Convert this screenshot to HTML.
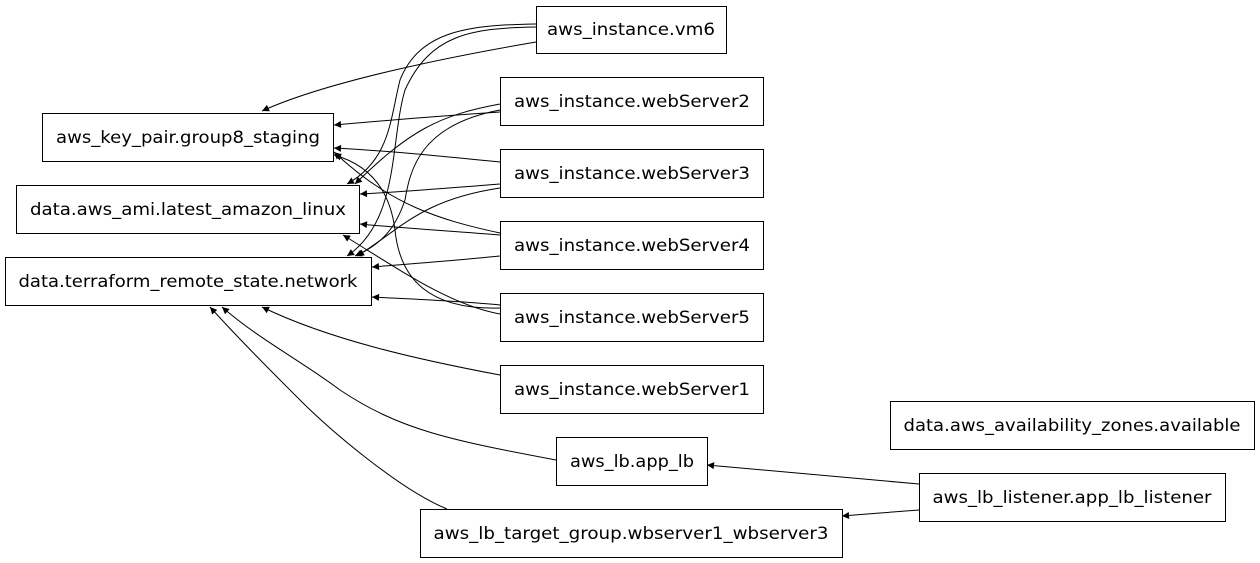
<!DOCTYPE html>
<html><head><meta charset="utf-8"><style>
html,body{margin:0;padding:0;background:#fff;}
svg{display:block;}
text{font-family:"DejaVu Sans","Liberation Sans",sans-serif;font-size:17px;fill:#000;}
</style></head><body>
<svg width="1260" height="563" viewBox="0 0 1260 563" xmlns="http://www.w3.org/2000/svg">
<defs><marker id="a" viewBox="0 0 10 10" refX="10" refY="5" markerWidth="10" markerHeight="7" orient="auto" markerUnits="userSpaceOnUse"><path d="M0,0 L10,5 L0,10 z" fill="#000"/></marker></defs>
<g fill="none" stroke="#000" stroke-width="1" marker-end="url(#a)">
<path d="M536,42 C460,55 330,80 262,111"/>
<path d="M536,24 C470,25 420,30 400,80 C390,120 390,160 347,184"/>
<path d="M536,27 C470,28 430,35 405,90 C390,140 400,220 347,256"/>
<path d="M500,112 C440,116 390,120 334,125"/>
<path d="M500,104 C440,115 410,130 355,184"/>
<path d="M500,110 C420,125 410,170 405,200 C395,230 380,245 355,256"/>
<path d="M500,162 C440,156 390,151 334,148"/>
<path d="M500,184 C450,188 400,192 360,194"/>
<path d="M500,188 C420,200 400,230 357,256"/>
<path d="M500,233 C440,220 390,205 334,152"/>
<path d="M500,235 C450,231 400,228 360,224"/>
<path d="M500,256 C460,260 410,264 372,267"/>
<path d="M500,308 C430,310 400,280 395,230 C390,190 370,165 334,155"/>
<path d="M500,314 C450,305 400,270 343,235"/>
<path d="M500,305 C460,301 410,299 372,297"/>
<path d="M500,375 C420,360 330,340 262,307"/>
<path d="M556,460 C450,440 400,430 340,390 C300,360 260,340 222,307"/>
<path d="M447,509 C400,490 330,430 300,400 C270,370 240,340 210,307"/>
<path d="M919,484 C850,478 780,472 707,465"/>
<path d="M919,510 C890,512 870,514 842,516"/>
</g>
<g fill="none" stroke="#000" stroke-width="1">
<rect x="536.5" y="6.5" width="190" height="47"/>
<rect x="500.5" y="77.5" width="263" height="48"/>
<rect x="500.5" y="149.5" width="263" height="48"/>
<rect x="500.5" y="221.5" width="263" height="48"/>
<rect x="500.5" y="293.5" width="263" height="48"/>
<rect x="500.5" y="365.5" width="263" height="48"/>
<rect x="556.5" y="437.5" width="151" height="48"/>
<rect x="420.5" y="509.5" width="422" height="48"/>
<rect x="42.5" y="113.5" width="291" height="48"/>
<rect x="16.5" y="185.5" width="343" height="48"/>
<rect x="5.5" y="257.5" width="366" height="48"/>
<rect x="890.5" y="401.5" width="364" height="48"/>
<rect x="919.5" y="473.5" width="306" height="48"/>
</g>
<g text-anchor="middle" lengthAdjust="spacingAndGlyphs">
<text x="631" y="35" textLength="168" lengthAdjust="spacingAndGlyphs">aws_instance.vm6</text>
<text x="632" y="107" textLength="236" lengthAdjust="spacingAndGlyphs">aws_instance.webServer2</text>
<text x="632" y="179" textLength="236" lengthAdjust="spacingAndGlyphs">aws_instance.webServer3</text>
<text x="632" y="251" textLength="236" lengthAdjust="spacingAndGlyphs">aws_instance.webServer4</text>
<text x="632" y="323" textLength="236" lengthAdjust="spacingAndGlyphs">aws_instance.webServer5</text>
<text x="632" y="395" textLength="236" lengthAdjust="spacingAndGlyphs">aws_instance.webServer1</text>
<text x="632" y="467" textLength="124" lengthAdjust="spacingAndGlyphs">aws_lb.app_lb</text>
<text x="631" y="539" textLength="395" lengthAdjust="spacingAndGlyphs">aws_lb_target_group.wbserver1_wbserver3</text>
<text x="188" y="143" textLength="264" lengthAdjust="spacingAndGlyphs">aws_key_pair.group8_staging</text>
<text x="188" y="215" textLength="316" lengthAdjust="spacingAndGlyphs">data.aws_ami.latest_amazon_linux</text>
<text x="188" y="287" textLength="339" lengthAdjust="spacingAndGlyphs">data.terraform_remote_state.network</text>
<text x="1072" y="431" textLength="337" lengthAdjust="spacingAndGlyphs">data.aws_availability_zones.available</text>
<text x="1072" y="503" textLength="279" lengthAdjust="spacingAndGlyphs">aws_lb_listener.app_lb_listener</text>
</g>
</svg>
</body></html>
